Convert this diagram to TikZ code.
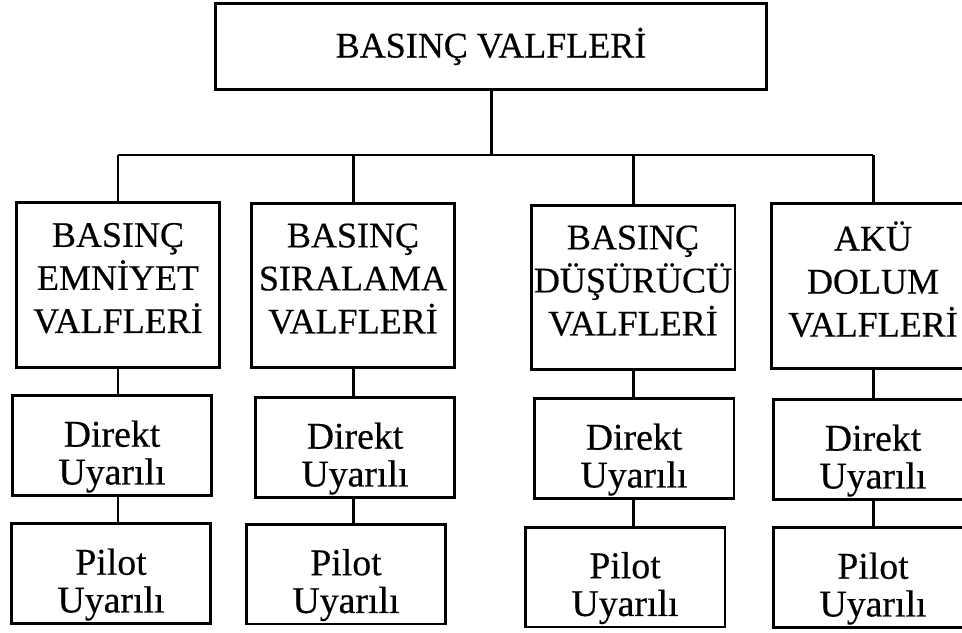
\documentclass[tikz,border=0pt]{standalone}
\usepackage{fontspec}
\setmainfont{Liberation Serif}[FakeBold=0.4]
\usepackage{tikz}
\usetikzlibrary{positioning,calc}
\tikzset{
    valf/.style={rectangle,draw,line width=1.7pt,align=center,inner sep=1pt},
    ana/.style={valf,minimum width=11.04cm,minimum height=1.74cm,font=\fontsize{20.5pt}{24.5pt}\selectfont},
    grup/.style={valf,minimum width=4.08cm,minimum height=3.3cm,font=\fontsize{20.5pt}{24.5pt}\selectfont,
        execute at end node={\rule[-8pt]{0pt}{8pt}}},
    tip/.style={valf,minimum width=4.0cm,minimum height=2.0cm,font=\fontsize{21.5pt}{21.5pt}\selectfont,
        execute at end node={\rule{0pt}{49pt}}},
    hat/.style={line width=1.7pt},
}

\begin{document}
\begin{tikzpicture}[x=0.02cm,y=-0.02cm]
\clip (0,0) rectangle (962,632);
% ana kutu
\node[ana] (ana) at (491,46.5) {BASINÇ VALFLERİ};
\coordinate (bara) at (491,155);

% valf gruplari
\node[grup] (g1) at (118,285)   {BASINÇ\\EMNİYET\\VALFLERİ};
\node[grup] (g2) at (353,285.5) {BASINÇ\\SIRALAMA\\VALFLERİ};
\node[grup] (g3) at (633,287.5) {BASINÇ\\DÜŞÜRÜCÜ\\VALFLERİ};
\node[grup] (g4) at (873,286)   {AKÜ\\DOLUM\\VALFLERİ};

% direkt uyarili
\node[tip] (d1) at (112,445.5) {Direkt\\Uyarılı};
\node[tip] (d2) at (355,447.5) {Direkt\\Uyarılı};
\node[tip] (d3) at (634,448.5) {Direkt\\Uyarılı};
\node[tip] (d4) at (873,449.5) {Direkt\\Uyarılı};

% pilot uyarili
\node[tip] (p1) at (111,573.5) {Pilot\\Uyarılı};
\node[tip] (p2) at (346,574)   {Pilot\\Uyarılı};
\node[tip] (p3) at (625,577)   {Pilot\\Uyarılı};
\node[tip] (p4) at (873,577.5) {Pilot\\Uyarılı};

% baglantilar
\draw[hat] (ana.south) -- (bara);
\draw[hat] (g1.north |- bara) -- (g4.north |- bara);
\foreach \g in {g1,g2,g3,g4}
    \draw[hat] (\g.north |- bara) -- (\g.north);
\draw[hat] (g1.south) -- (g1.south |- d1.north);
\draw[hat] (g2.south) -- (g2.south |- d2.north);
\draw[hat] (g3.south) -- (g3.south |- d3.north);
\draw[hat] (g4.south) -- (g4.south |- d4.north);
\draw[hat] (g1.south |- d1.south) -- (g1.south |- p1.north);
\draw[hat] (g2.south |- d2.south) -- (g2.south |- p2.north);
\draw[hat] (g3.south |- d3.south) -- (g3.south |- p3.north);
\draw[hat] (g4.south |- d4.south) -- (g4.south |- p4.north);
\end{tikzpicture}
\end{document}
